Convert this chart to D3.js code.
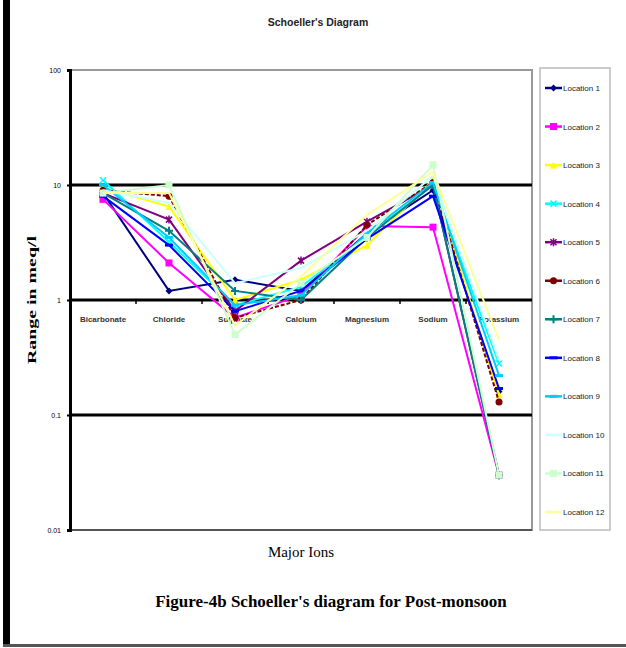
<!DOCTYPE html>
<html>
<head>
<meta charset="utf-8">
<script src="https://cdn.jsdelivr.net/npm/d3@7"></script>
<style>
  body { margin: 0; background: #fff; }
  svg { display: block; }
</style>
</head>
<body>
<svg id="chart" width="626" height="648"></svg>
<script>
// ions on the x axis
const ions = ['Bicarbonate', 'Chloride', 'Sulphate', 'Calcium', 'Magnesium', 'Sodium', 'Potassium'];
const yTicks = [100, 10, 1, 0.1, 0.01];
const yTickLabels = ['100', '10', '1', '0.1', '0.01'];

const locations = ['Location 1', 'Location 2', 'Location 3', 'Location 4', 'Location 5', 'Location 6',
  'Location 7', 'Location 8', 'Location 9', 'Location 10', 'Location 11', 'Location 12'];
const colors = ['#000080', '#ff00ff', '#ffff00', '#00ffff', '#800080', '#800000',
  '#008080', '#0000ff', '#00ccff', '#ccffff', '#ccffcc', '#ffff99'];
const markers = ['diamond', 'square', 'triangle', 'x', 'star', 'circle', 'plus', 'dash', 'dash', 'none', 'square', 'none'];

// meq/l
const loc1 = [8.5, 1.2, 1.5, 1.2, 3.8, 9.0, 0.16];
const loc2 = [7.5, 2.1, 0.7, 1.1, 4.4, 4.3, 0.03];
const loc3 = [9.5, 6.5, 1.0, 1.5, 3.0, 11, 0.15];
const loc4 = [11, 3.2, 0.9, 1.3, 3.6, 10, 0.28];
const loc5 = [8.5, 5.0, 0.8, 2.2, 4.8, 10, 0.03];
const loc6 = [9.0, 8.0, 0.7, 1.0, 4.5, 10.5, 0.13];
const loc7 = [8.5, 4.0, 1.2, 1.0, 3.5, 10, 0.03];
const loc8 = [8.0, 3.0, 0.8, 1.2, 3.4, 8.0, 0.17];
const loc9 = [10, 3.5, 0.9, 1.1, 3.8, 10.5, 0.22];
const loc10 = [9.0, 7.0, 1.4, 1.9, 4.0, 12, 0.3];
const loc11 = [8.5, 10, 0.5, 1.4, 3.5, 15, 0.03];
const loc12 = [8.5, 8.5, 0.6, 1.6, 5.5, 13, 0.45];
const series = [loc1, loc2, loc3, loc4, loc5, loc6, loc7, loc8, loc9, loc10, loc11, loc12];

const svg = d3.select('#chart');

// page frame, left and bottom
svg.append('rect').attr('x', 3).attr('y', 0).attr('width', 7).attr('height', 647).attr('fill', '#000');
svg.append('rect').attr('x', 3).attr('y', 644).attr('width', 623).attr('height', 3).attr('fill', '#555');

const plot = { left: 70, right: 532, top: 70, bottom: 530 };

const x = d3.scaleBand().domain(ions).range([plot.left, plot.right]);
const y = d3.scaleLog().domain([0.01, 100]).range([plot.bottom, plot.top]);

svg.append('text')
  .attr('x', 318).attr('y', 26)
  .attr('text-anchor', 'middle')
  .style('font', 'bold 10.5px Arial, "Liberation Sans", sans-serif')
  .attr('fill', '#222')
  .text("Schoeller's Diagram");

// plot box
svg.append('rect')
  .attr('x', plot.left).attr('y', plot.top)
  .attr('width', plot.right - plot.left).attr('height', plot.bottom - plot.top)
  .attr('fill', 'none').attr('stroke', '#999').attr('stroke-width', 2);

// gridlines
svg.append('g').selectAll('line')
  .data(yTicks.filter(d => d < 100 && d > 0.01))
  .join('line')
  .attr('x1', plot.left).attr('x2', plot.right)
  .attr('y1', d => y(d)).attr('y2', d => y(d))
  .attr('stroke', '#000').attr('stroke-width', 3);

svg.append('line')
  .attr('x1', plot.left).attr('x2', plot.right)
  .attr('y1', y(0.01)).attr('y2', y(0.01))
  .attr('stroke', '#555').attr('stroke-width', 2);

// y axis
const yAxis = svg.append('g')
  .attr('transform', `translate(${plot.left},0)`)
  .call(d3.axisLeft(y).tickValues(yTicks).tickFormat((d, i) => yTickLabels[i]).tickSize(3).tickPadding(6));
yAxis.select('.domain').attr('stroke', '#000').attr('stroke-width', 3);
yAxis.selectAll('.tick line').attr('stroke', '#000').attr('stroke-width', 2);
yAxis.selectAll('.tick text')
  .style('font', '7px Arial, "Liberation Sans", sans-serif').attr('fill', '#000');

// category ticks and labels along the 1 line
svg.append('g').selectAll('line')
  .data(ions.slice(1))
  .join('line')
  .attr('x1', d => x(d)).attr('x2', d => x(d))
  .attr('y1', y(1)).attr('y2', y(1) + 4)
  .attr('stroke', '#000').attr('stroke-width', 1.5);

svg.append('g').selectAll('text')
  .data(ions)
  .join('text')
  .attr('x', d => x(d) + x.bandwidth() / 2)
  .attr('y', y(1) + 22)
  .attr('text-anchor', 'middle')
  .style('font', 'bold 8px Arial, "Liberation Sans", sans-serif')
  .attr('fill', '#333')
  .text(d => d);

// axis titles
svg.append('text')
  .attr('transform', 'translate(36,' + ((plot.top + plot.bottom) / 2) + ') rotate(-90)')
  .attr('text-anchor', 'middle')
  .attr('textLength', 128)
  .attr('lengthAdjust', 'spacingAndGlyphs')
  .style('font', 'bold 13px "Liberation Serif", "DejaVu Serif", serif')
  .text('Range in meq/l');

svg.append('text')
  .attr('x', 301).attr('y', 557)
  .attr('text-anchor', 'middle')
  .style('font', '15px "Liberation Serif", "DejaVu Serif", serif')
  .text('Major Ions');

svg.append('text')
  .attr('x', 331).attr('y', 607)
  .attr('text-anchor', 'middle')
  .style('font', 'bold 17px "Liberation Serif", "DejaVu Serif", serif')
  .text("Figure-4b Schoeller's diagram for Post-monsoon");

// marker helper
let drawMarker = function(g, type, color, cx, cy) {
  let s = 3.5;
  if (type === 'diamond') {
    g.append('path').attr('d', `M${cx} ${cy - s}L${cx + s} ${cy}L${cx} ${cy + s}L${cx - s} ${cy}Z`).attr('fill', color);
  } else if (type === 'square') {
    g.append('rect').attr('x', cx - 3.5).attr('y', cy - 3.5).attr('width', 7).attr('height', 7).attr('fill', color);
  } else if (type === 'triangle') {
    g.append('path').attr('d', `M${cx} ${cy - s}L${cx + s} ${cy + s}L${cx - s} ${cy + s}Z`).attr('fill', color);
  } else if (type === 'x') {
    g.append('path').attr('d', `M${cx - 3} ${cy - 3}L${cx + 3} ${cy + 3}M${cx + 3} ${cy - 3}L${cx - 3} ${cy + 3}`)
      .attr('stroke', color).attr('stroke-width', 1.5);
  } else if (type === 'star') {
    g.append('path').attr('d', `M${cx - 3} ${cy - 3}L${cx + 3} ${cy + 3}M${cx + 3} ${cy - 3}L${cx - 3} ${cy + 3}M${cx} ${cy - 4}L${cx} ${cy + 4}`)
      .attr('stroke', color).attr('stroke-width', 1.5);
  } else if (type === 'circle') {
    g.append('circle').attr('cx', cx).attr('cy', cy).attr('r', 3.5).attr('fill', color);
  } else if (type === 'plus') {
    g.append('path').attr('d', `M${cx - 4} ${cy}L${cx + 4} ${cy}M${cx} ${cy - 4}L${cx} ${cy + 4}`)
      .attr('stroke', color).attr('stroke-width', 2);
  } else if (type === 'dash') {
    g.append('path').attr('d', `M${cx - 4} ${cy}L${cx + 4} ${cy}`).attr('stroke', color).attr('stroke-width', 3);
  }
}

const line = d3.line()
  .x((d, i) => x(ions[i]) + x.bandwidth() / 2)
  .y(d => y(d));

series.forEach(function(vals, k) {
  let g = svg.append('g').attr('class', 'series series-' + k);
  g.append('path')
    .attr('d', line(vals))
    .attr('fill', 'none')
    .attr('stroke', colors[k])
    .attr('stroke-width', 2)
    .attr('stroke-dasharray', k === 5 ? '4,2' : null);
  vals.forEach(function(v, i) {
    drawMarker(g, markers[k], colors[k], x(ions[i]) + x.bandwidth() / 2, y(v));
  });
});

// legend
const legend = svg.append('g');
legend.append('rect')
  .attr('x', 540).attr('y', 68).attr('width', 70).attr('height', 462)
  .attr('fill', '#fff').attr('stroke', '#bbb').attr('stroke-width', 1.5);

const ly = d3.scalePoint().domain(locations).range([88, 512]);
locations.forEach(function(name, k) {
  let yy = ly(name);
  legend.append('line')
    .attr('x1', 545).attr('x2', 562).attr('y1', yy).attr('y2', yy)
    .attr('stroke', colors[k]).attr('stroke-width', 2.5);
  drawMarker(legend, markers[k], colors[k], 553.5, yy);
  legend.append('text')
    .attr('x', 563).attr('y', yy + 3)
    .style('font', '8px Arial, "Liberation Sans", sans-serif')
    .attr('fill', '#222')
    .text(name);
});
</script>
</body>
</html>
